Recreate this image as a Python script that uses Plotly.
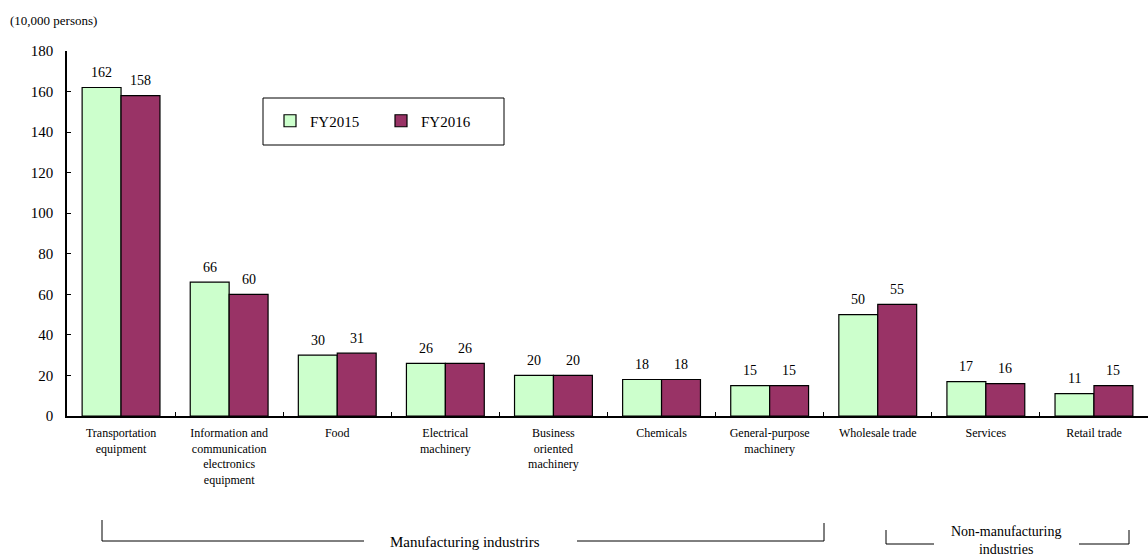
import plotly.graph_objects as go

categories = [
    "Transportation<br>equipment",
    "Information and<br>communication<br>electronics<br>equipment",
    "Food",
    "Electrical<br>machinery",
    "Business<br>oriented<br>machinery",
    "Chemicals",
    "General-purpose<br>machinery",
    "Wholesale trade",
    "Services",
    "Retail trade",
]
fy2015 = [162, 66, 30, 26, 20, 18, 15, 50, 17, 11]
fy2016 = [158, 60, 31, 26, 20, 18, 15, 55, 16, 15]
series_names = ["FY2015", "FY2016"]
y_ticks = [0, 20, 40, 60, 80, 100, 120, 140, 160, 180]

FONT = "Liberation Serif"
W, H = 1148, 555
L, T, B = 67, 51, 139
R = 0
pw = W - L - R
ph = H - T - B
BARGAP = 0.28

def px(x):
    return (x - L) / pw

def py(y):
    return (H - B - y) / ph

fig = go.Figure()
for name, vals, color in [(series_names[0], fy2015, "#CCFFCC"), (series_names[1], fy2016, "#993366")]:
    fig.add_trace(go.Bar(
        x=categories, y=vals, name=name,
        marker=dict(color=color, line=dict(color="black", width=1.2)),
    ))

# value labels above bars
cat_w = pw / len(categories)
bar_w = cat_w * (1 - BARGAP) / 2
annotations = []
for vals, sgn in [(fy2015, -1), (fy2016, 1)]:
    for c, v in zip(categories, vals):
        annotations.append(dict(x=c, y=v, text=str(v), showarrow=False, xshift=sgn * bar_w / 2,
                                yshift=15, yanchor="middle", xanchor="center",
                                font=dict(family=FONT, size=14, color="black")))

shapes = []
line = dict(color="black", width=1)
# legend box
shapes.append(dict(type="rect", xref="paper", yref="paper", x0=px(263), x1=px(504), y0=py(145), y1=py(98), line=line, fillcolor="white", layer="below"))
# Manufacturing bracket
shapes.append(dict(type="line", xref="paper", yref="paper", x0=px(102), x1=px(102), y0=py(520), y1=py(541), line=line))
shapes.append(dict(type="line", xref="paper", yref="paper", x0=px(102), x1=px(364), y0=py(541), y1=py(541), line=line))
shapes.append(dict(type="line", xref="paper", yref="paper", x0=px(577), x1=px(824), y0=py(541), y1=py(541), line=line))
shapes.append(dict(type="line", xref="paper", yref="paper", x0=px(824), x1=px(824), y0=py(523), y1=py(541), line=line))
# Non-manufacturing bracket
shapes.append(dict(type="line", xref="paper", yref="paper", x0=px(886), x1=px(886), y0=py(530), y1=py(544), line=line))
shapes.append(dict(type="line", xref="paper", yref="paper", x0=px(886), x1=px(934), y0=py(544), y1=py(544), line=line))
shapes.append(dict(type="line", xref="paper", yref="paper", x0=px(1079), x1=px(1129), y0=py(544), y1=py(544), line=line))
shapes.append(dict(type="line", xref="paper", yref="paper", x0=px(1129), x1=px(1129), y0=py(530), y1=py(544), line=line))

annotations += [
    dict(text="(10,000 persons)", xref="paper", yref="paper", x=px(8), y=py(21), xanchor="left", yanchor="middle",
         showarrow=False, font=dict(family=FONT, size=13, color="black")),
    dict(text="Manufacturing industrirs", xref="paper", yref="paper", x=px(465), y=py(542), xanchor="center", yanchor="middle",
         showarrow=False, font=dict(family=FONT, size=15, color="black")),
    dict(text="Non-manufacturing<br>industries", xref="paper", yref="paper", x=px(1006), y=py(540), xanchor="center", yanchor="middle",
         showarrow=False, font=dict(family=FONT, size=14, color="black")),
]

fig.update_layout(
    width=W, height=H,
    margin=dict(l=L, r=R, t=T, b=B, pad=0),
    plot_bgcolor="white", paper_bgcolor="white",
    barmode="group", bargap=BARGAP, bargroupgap=0,
    font=dict(family=FONT, size=13, color="black"),
    showlegend=True,
    legend=dict(orientation="h", x=px(270), y=py(121), xanchor="left", yanchor="middle",
                bgcolor="rgba(0,0,0,0)", borderwidth=0, font=dict(family=FONT, size=15, color="black"),
                entrywidth=66, tracegroupgap=0),
    shapes=shapes, annotations=annotations,
    xaxis=dict(type="category", tickson="boundaries", ticks="inside", ticklen=4, tickcolor="black",
               showline=True, linecolor="black", linewidth=1.5, showgrid=False,
               tickfont=dict(family=FONT, size=12, color="black"), tickangle=0,
               ticklabelstandoff=5,
               range=[-0.5, 9.5], automargin=False),
    yaxis=dict(range=[0, 180], tickvals=y_ticks, ticks="inside", ticklen=4, tickcolor="black",
               showline=True, linecolor="black", linewidth=1.5, showgrid=False, zeroline=False,
               ticklabelstandoff=9,
               tickfont=dict(family=FONT, size=15, color="black"), automargin=False),
)

fig.write_html("out.html")
